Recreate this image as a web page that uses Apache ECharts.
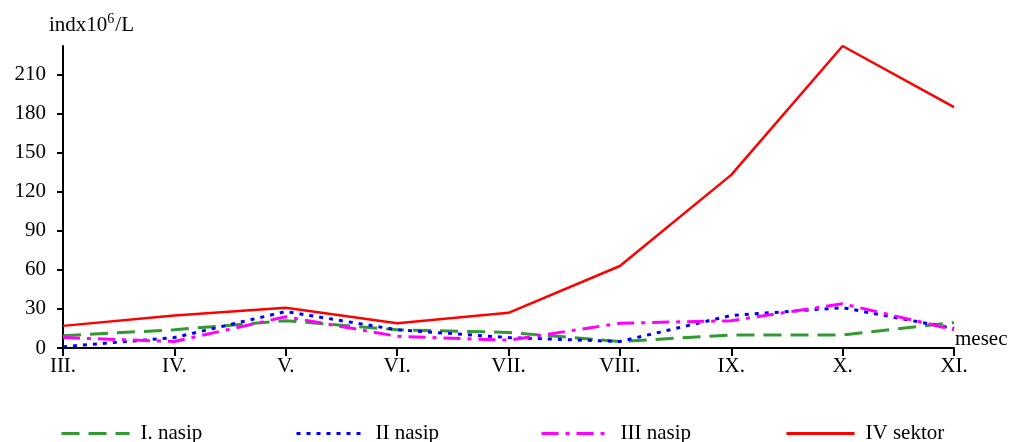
<!DOCTYPE html>
<html>
<head>
<meta charset="utf-8">
<title>indx</title>
<script src="https://cdn.jsdelivr.net/npm/echarts@6/dist/echarts.min.js"></script>
<style>
  html, body { margin: 0; padding: 0; background: #fff; }
  #chart { width: 1010px; height: 442px; }
</style>
</head>
<body>
<div id="chart"></div>
<script>
// months
var months = ['III.', 'IV.', 'V.', 'VI.', 'VII.', 'VIII.', 'IX.', 'X.', 'XI.'];
var yTicks = [0, 30, 60, 90, 120, 150, 180, 210];

// values (indx10^6/L)
var nasip1 = [9.5, 14, 21, 14, 12, 5, 10, 10, 19.5];
var nasip2 = [1, 8, 28, 14, 8, 5, 25, 31, 15];
var nasip3 = [8, 5, 24, 9, 6, 19, 21, 34, 14];
var sektor4 = [17, 25, 31, 19, 27, 63, 133, 232, 185];

var font = 'Liberation Serif';
var chart = echarts.init(document.getElementById('chart'));

function legendAt(name, left) {
    return {
        data: [name],
        left: left,
        top: 418,
        itemWidth: 68,
        itemHeight: 14,
        itemGap: 0,
        itemStyle: { opacity: 0 },
        lineStyle: { width: 3 },
        textStyle: { fontFamily: font, fontSize: 21, color: '#000', padding: [0, 0, 0, 6] }
    };
}

var option = {
    animation: false,
    grid: { left: 63, right: 56, top: 46, bottom: 94, containLabel: false, outerBoundsMode: 'none' },
    legend: [
        legendAt('I. nasip', 55),
        legendAt('II nasip', 290),
        legendAt('III nasip', 535),
        legendAt('IV sektor', 780)
    ],
    xAxis: {
        type: 'category',
        data: months,
        boundaryGap: false,
        name: 'mesec',
        nameLocation: 'end',
        nameGap: 1,
        nameMoveOverlap: false,
        nameTextStyle: { fontFamily: font, fontSize: 21, color: '#000', verticalAlign: 'bottom', lineHeight: 18 },
        axisLine: { lineStyle: { color: '#000', width: 2 } },
        axisTick: { show: true, length: 8, alignWithLabel: true, lineStyle: { color: '#000', width: 2 } },
        axisLabel: { fontFamily: font, fontSize: 21, color: '#000', margin: 8 },
        splitLine: { show: false }
    },
    yAxis: {
        type: 'value',
        min: 0,
        max: 232,
        interval: 30,
        name: '{a|indx10}{sup|6}{a|/L}',
        nameLocation: 'end',
        nameGap: 8,
        nameMoveOverlap: false,
        nameTextStyle: {
            align: 'left',
            padding: [0, 0, 0, -14],
            rich: {
                a: { fontFamily: font, fontSize: 21, color: '#000' },
                sup: { fontFamily: font, fontSize: 14, color: '#000', padding: [0, 1, 12, 0] }
            }
        },
        axisLine: { show: true, lineStyle: { color: '#000', width: 2 } },
        axisTick: { show: true, length: 6, customValues: yTicks, lineStyle: { color: '#000', width: 2 } },
        axisLabel: { fontFamily: font, fontSize: 21, color: '#000', margin: 17, customValues: yTicks },
        splitLine: { show: false }
    },
    series: [
        {
            name: 'I. nasip', type: 'line', data: nasip1, symbol: 'none',
            color: '#339933',
            lineStyle: { color: '#339933', width: 3, type: [18, 9] }
        },
        {
            name: 'II nasip', type: 'line', data: nasip2, symbol: 'none',
            color: '#0000ff',
            lineStyle: { color: '#0000ff', width: 3, type: [4, 6] }
        },
        {
            name: 'III nasip', type: 'line', data: nasip3, symbol: 'none',
            color: '#ff00ff',
            lineStyle: { color: '#ff00ff', width: 3, type: [17, 7, 4, 7] }
        },
        {
            name: 'IV sektor', type: 'line', data: sektor4, symbol: 'none',
            color: '#ff0000',
            lineStyle: { color: '#ff0000', width: 2.5 }
        }
    ]
};

chart.setOption(option);
</script>
</body>
</html>
